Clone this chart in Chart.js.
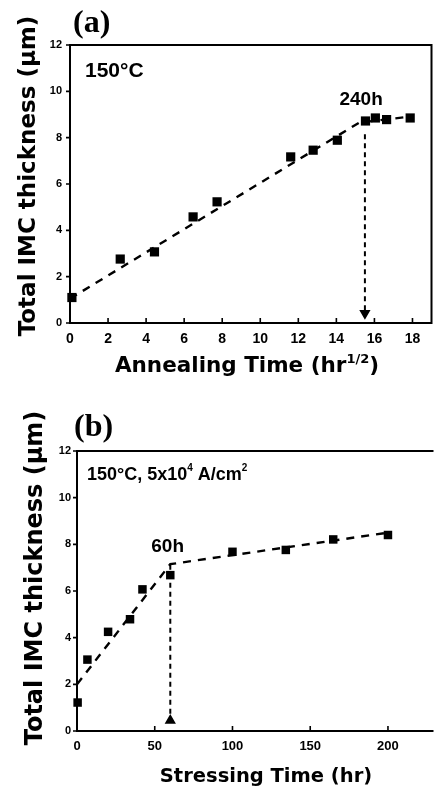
<!DOCTYPE html>
<html>
<head>
<meta charset="utf-8">
<script src="https://cdn.jsdelivr.net/npm/chart.js@4.4.1/dist/chart.umd.min.js"></script>
<style>
  html, body { margin: 0; padding: 0; background: #fff; overflow: hidden; }
  .panel { position: absolute; left: 0; }
</style>
</head>
<body>
<div class="panel" style="top:0"><canvas id="chartA" width="438" height="380"></canvas></div>
<div class="panel" style="top:380px"><canvas id="chartB" width="438" height="408"></canvas></div>
<script>
// (a) thermal annealing at 150 C
const annealTime = [0.1, 2.64, 4.44, 6.47, 7.73, 11.6, 12.78, 14.05, 15.53, 16.05, 16.64, 17.88];
const annealThick = [1.1, 2.76, 3.07, 4.58, 5.23, 7.17, 7.46, 7.89, 8.72, 8.85, 8.78, 8.85];
const annealFitX = [0, 15.2, 18];
const annealFitY = [1.05, 8.65, 8.92];
const annealMarkX = [15.5, 15.5];
const annealMarkY = [8.15, 0.42];
const annealTicksX = [0, 2, 4, 6, 8, 10, 12, 14, 16, 18];
const annealTicksY = [0, 2, 4, 6, 8, 10, 12];

// (b) current stressing at 150 C, 5x10^4 A/cm^2
const stressTime = [0.4, 6.7, 20, 34.1, 42.1, 60, 100, 134.3, 164.8, 200];
const stressThick = [1.22, 3.06, 4.25, 4.79, 6.07, 6.68, 7.68, 7.76, 8.21, 8.4];
const stressFitX = [0, 60, 200];
const stressFitY = [2.0, 7.15, 8.5];
const stressMarkX = [60, 60];
const stressMarkY = [7.12, 0.45];
const stressTicksX = [0, 50, 100, 150, 200];
const stressTicksY = [0, 2, 4, 6, 8, 10, 12];

const SANS = '"Liberation Sans", Arial, sans-serif';
const WIDE = '"DejaVu Sans", Verdana, sans-serif';
const SERIF = '"Liberation Serif", "Times New Roman", serif';

const toXY = (xs, ys) => xs.map((x, i) => ({ x, y: ys[i] }));

// draws a run of text pieces (for superscripts) starting at x, baseline y
function drawRich(ctx, parts, x, y, align, spacing) {
  ctx.letterSpacing = (spacing || 0) + 'px';
  let w = 0;
  parts.forEach(p => { ctx.font = p.font; p.w = ctx.measureText(p.t).width; w += p.w; });
  let cx = align === 'center' ? x - w / 2 : x;
  ctx.textAlign = 'left';
  ctx.textBaseline = 'alphabetic';
  parts.forEach(p => {
    ctx.font = p.font;
    ctx.fillText(p.t, cx, y + (p.dy || 0));
    cx += p.w;
  });
  ctx.letterSpacing = '0px';
}

const decor = {
  id: 'decor',
  afterDraw(chart, args, opts) {
    const { ctx, chartArea: a, scales: { x, y } } = chart;
    ctx.save();
    ctx.strokeStyle = '#000';
    ctx.fillStyle = '#000';
    ctx.lineWidth = 2;
    ctx.beginPath();
    if (opts.box) {
      ctx.rect(a.left, a.top, a.right - a.left, a.bottom - a.top);
    } else {
      ctx.moveTo(a.right + 2, a.top);
      ctx.lineTo(a.left, a.top);
      ctx.lineTo(a.left, a.bottom);
      ctx.lineTo(a.right + 2, a.bottom);
    }
    ctx.stroke();

    // inward x ticks, outward y ticks
    ctx.lineWidth = 1.6;
    ctx.beginPath();
    x.ticks.forEach(t => {
      const px = x.getPixelForValue(t.value);
      ctx.moveTo(px, a.bottom);
      ctx.lineTo(px, a.bottom - 5);
    });
    y.ticks.forEach(t => {
      const py = y.getPixelForValue(t.value);
      ctx.moveTo(a.left, py);
      ctx.lineTo(a.left - 4, py);
    });
    ctx.stroke();

    // labels given in data units
    (opts.notes || []).forEach(n => {
      drawRich(ctx, n.parts, x.getPixelForValue(n.x), y.getPixelForValue(n.y), 'center');
    });
    // labels given in pixels
    (opts.texts || []).forEach(n => {
      drawRich(ctx, n.parts, n.x, n.y, n.align, n.spacing);
    });

    // rotated y title
    const yt = opts.yTitle;
    ctx.translate(yt.x, yt.y);
    ctx.rotate(-Math.PI / 2);
    drawRich(ctx, yt.parts, 0, 0, 'center', yt.spacing);
    ctx.restore();
  }
};

function makeChart(id, cfg) {
  return new Chart(document.getElementById(id), {
    type: 'scatter',
    data: {
      datasets: [
        {
          data: toXY(cfg.xs, cfg.ys),
          pointStyle: 'rect',
          pointRadius: cfg.pointRadius,
          backgroundColor: '#000',
          borderColor: '#000',
          borderWidth: 0,
          clip: false
        },
        {
          data: toXY(cfg.fitX, cfg.fitY),
          showLine: true,
          borderColor: '#000',
          borderWidth: 2.4,
          borderDash: [8, 7],
          pointRadius: 0
        },
        {
          data: toXY(cfg.markX, cfg.markY),
          showLine: true,
          borderColor: '#000',
          borderWidth: 2,
          borderDash: [5, 4],
          pointRadius: [0, 4.5],
          pointStyle: 'triangle',
          rotation: cfg.arrowRotation,
          backgroundColor: '#000',
          clip: false
        }
      ]
    },
    options: {
      responsive: false,
      animation: false,
      devicePixelRatio: 1,
      layout: { padding: cfg.padding },
      plugins: {
        legend: { display: false },
        tooltip: { enabled: false },
        decor: cfg.decor
      },
      scales: {
        x: {
          type: 'linear',
          min: 0,
          max: cfg.xMax,
          grid: { display: false, drawTicks: false },
          border: { display: false },
          afterBuildTicks: s => { s.ticks = cfg.ticksX.map(v => ({ value: v })); },
          afterFit: s => { s.height = cfg.xAxisHeight; },
          ticks: { color: '#000', padding: cfg.xTickPad, font: cfg.xTickFont, maxRotation: 0 }
        },
        y: {
          type: 'linear',
          min: 0,
          max: 12,
          grid: { display: false, drawTicks: false },
          border: { display: false },
          afterBuildTicks: s => { s.ticks = cfg.ticksY.map(v => ({ value: v })); },
          afterFit: s => { s.width = cfg.yAxisWidth; },
          ticks: { color: '#000', padding: cfg.yTickPad, font: cfg.yTickFont }
        }
      }
    },
    plugins: [decor]
  });
}

makeChart('chartA', {
  xs: annealTime, ys: annealThick,
  fitX: annealFitX, fitY: annealFitY,
  markX: annealMarkX, markY: annealMarkY,
  ticksX: annealTicksX, ticksY: annealTicksY,
  xMax: 19,
  pointRadius: 6.5,
  arrowRotation: 180,
  padding: { top: 45, right: 5, left: 0, bottom: 0 },
  xAxisHeight: 57,
  yAxisWidth: 70,
  xTickPad: 8,
  yTickPad: 8,
  xTickFont: { family: SANS, size: 14, weight: 'bold' },
  yTickFont: { family: SANS, size: 11, weight: 'bold' },
  decor: {
    box: true,
    notes: [
      { x: 15.3, y: 9.4, parts: [{ t: '240h', font: 'bold 19px ' + SANS }] }
    ],
    texts: [
      { x: 73, y: 32, parts: [{ t: '(a)', font: 'bold 32px ' + SERIF }] },
      { x: 85, y: 77, parts: [
        { t: '150', font: 'bold 21px ' + SANS },
        { t: '°', font: 'bold 21px ' + SANS },
        { t: 'C', font: 'bold 21px ' + SANS }
      ] },
      { x: 247, y: 372, align: 'center', parts: [
        { t: 'Annealing Time (hr', font: 'bold 21.5px ' + WIDE },
        { t: '1/2', font: 'bold 13px ' + WIDE, dy: -9 },
        { t: ')', font: 'bold 21.5px ' + WIDE }
      ] }
    ],
    yTitle: { x: 35, y: 176, parts: [{ t: 'Total IMC thickness (μm)', font: 'bold 23px ' + WIDE }] }
  }
});

makeChart('chartB', {
  xs: stressTime, ys: stressThick,
  fitX: stressFitX, fitY: stressFitY,
  markX: stressMarkX, markY: stressMarkY,
  ticksX: stressTicksX, ticksY: stressTicksY,
  xMax: 228,
  pointRadius: 6,
  arrowRotation: 0,
  padding: { top: 71, right: 0, left: 0, bottom: 0 },
  xAxisHeight: 57,
  yAxisWidth: 77,
  xTickPad: 8,
  yTickPad: 6,
  xTickFont: { family: SANS, size: 13, weight: 'bold' },
  yTickFont: { family: SANS, size: 11, weight: 'bold' },
  decor: {
    box: false,
    notes: [
      { x: 58.3, y: 7.67, parts: [{ t: '60h', font: 'bold 19px ' + SANS }] }
    ],
    texts: [
      { x: 74, y: 56, parts: [{ t: '(b)', font: 'bold 32px ' + SERIF }] },
      { x: 87, y: 100, parts: [
        { t: '150', font: 'bold 18px ' + SANS },
        { t: '°', font: 'bold 18px ' + SANS },
        { t: 'C, 5x10', font: 'bold 18px ' + SANS },
        { t: '4', font: 'bold 10px ' + SANS, dy: -9 },
        { t: ' A/cm', font: 'bold 18px ' + SANS },
        { t: '2', font: 'bold 10px ' + SANS, dy: -9 }
      ] },
      { x: 266, y: 402, align: 'center', parts: [
        { t: 'Stressing Time (hr)', font: 'bold 19.5px ' + WIDE }
      ] }
    ],
    yTitle: { x: 42, y: 198, parts: [{ t: 'Total IMC thickness (μm)', font: 'bold 24px ' + WIDE }] }
  }
});
</script>
</body>
</html>
